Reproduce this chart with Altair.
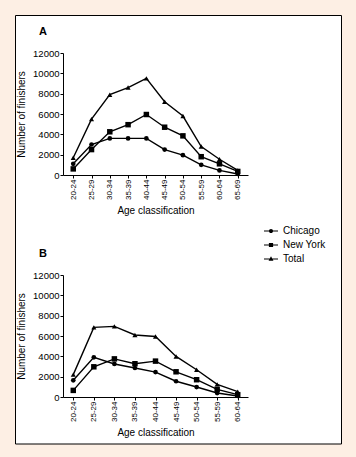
import altair as alt
import pandas as pd

ages_a = ["20-24", "25-29", "30-34", "35-39", "40-44", "45-49", "50-54", "55-59", "60-64", "65-69"]
chicago_a = [1100, 3000, 3600, 3600, 3600, 2500, 1950, 1000, 450, 100]
newyork_a = [600, 2500, 4250, 4950, 5950, 4700, 3850, 1800, 1100, 350]
total_a = [1700, 5500, 7900, 8600, 9500, 7200, 5800, 2800, 1550, 450]

ages_b = ["20-24", "25-29", "30-34", "35-39", "40-44", "45-49", "50-54", "55-59", "60-64"]
chicago_b = [1640, 3900, 3250, 2850, 2450, 1550, 980, 390, 100]
newyork_b = [650, 2970, 3750, 3270, 3530, 2480, 1700, 750, 230]
total_b = [2200, 6850, 6950, 6100, 5950, 3990, 2680, 1240, 520]

series = ["Chicago", "New York", "Total"]
shapes = ["circle", "square", "triangle-up"]
legend_paths = [
    "M-1,-0.075H1V0.075H-1Z M0.3,0A0.3,0.3,0,1,1,-0.3,0A0.3,0.3,0,1,1,0.3,0Z",
    "M-1,-0.075H1V0.075H-1Z M-0.3,-0.3H0.3V0.3H-0.3Z",
    "M-1,-0.075H1V0.075H-1Z M0,-0.38L0.35,0.25L-0.35,0.25Z",
]
y_ticks = [0, 2000, 4000, 6000, 8000, 10000, 12000]

FONT = "Liberation Sans"
BG = "#FDEFE4"


def make_df(ages, ch, ny, tot):
    rows = []
    for name, vals in zip(series, [ch, ny, tot]):
        for a, v in zip(ages, vals):
            rows.append({"age": a, "series": name, "value": v})
    return pd.DataFrame(rows)


def panel(ages, ch, ny, tot, title, xpad, height, with_frame=False, with_legend=False):
    df = make_df(ages, ch, ny, tot)
    x = alt.X("age:N", sort=ages, scale=alt.Scale(type="point", padding=xpad),
              axis=alt.Axis(title="Age classification", labelAngle=270, labelFontSize=8,
                            labelPadding=1, tickSize=3, titleFontSize=10, titleFontWeight="normal",
                            titlePadding=6, domainColor="black", tickColor="black",
                            labelColor="black", titleColor="black", zindex=1, labelFont=FONT,
                            titleFont=FONT, labelOverlap=False))
    y = alt.Y("value:Q", scale=alt.Scale(domain=[0, 12000], nice=False),
              axis=alt.Axis(title="Number of finishers", values=y_ticks, grid=False, format="d",
                            labelFontSize=9.5, labelPadding=1, tickSize=3, titleFontSize=10,
                            titleFontWeight="normal", titlePadding=6, domainColor="black",
                            tickColor="black", labelColor="black", titleColor="black",
                            zindex=1, labelFont=FONT, titleFont=FONT, labelOverlap=False))
    base = alt.Chart(df)
    line = base.mark_line(color="black", strokeWidth=1.4).encode(x=x, y=y, detail="series:N")
    layers = []
    if with_frame:
        frame = alt.Chart(pd.DataFrame({"f": [0]})).mark_rect(
            fill="white", stroke="black", strokeWidth=1
        ).encode(x=alt.value(-47.5), x2=alt.value(278.5), y=alt.value(-37.5), y2=alt.value(391))
        layers.append(frame)
    label = alt.Chart(pd.DataFrame({"t": [title]})).mark_text(
        align="left", baseline="alphabetic", fontSize=11, fontWeight="bold", font=FONT, color="black"
    ).encode(text="t:N", x=alt.value(-24), y=alt.value(-18.5))
    layers.append(label)
    layers.append(line)
    for name, shp, sz in zip(series, shapes, [22, 30, 26]):
        pts = base.transform_filter(alt.datum.series == name).mark_point(
            shape=shp, filled=True, color="black", opacity=1, size=sz
        ).encode(x=x, y=y)
        layers.append(pts)
    if with_legend:
        leg_df = pd.DataFrame({"age": [ages[0]] * 3, "series": series, "value": [-5000] * 3})
        leg = alt.Chart(leg_df).mark_point(filled=True, color="black", clip=True).encode(
            x=x,
            y=y,
            shape=alt.Shape("series:N", sort=series,
                            scale=alt.Scale(domain=series, range=legend_paths),
                            legend=alt.Legend(title=None, orient="none", legendX=200, legendY=170,
                                              symbolSize=196, symbolFillColor="black",
                                              symbolOpacity=1, labelFontSize=10, labelFont=FONT,
                                              labelColor="black", labelOffset=4, rowPadding=0)),
        )
        layers.append(leg)
    return alt.layer(*layers).properties(width=185, height=height)


chart_a = panel(ages_a, chicago_a, newyork_a, total_a, "A", 0.56, 122, with_frame=True, with_legend=True)
chart_b = panel(ages_b, chicago_b, newyork_b, total_b, "B", 0.5, 122)

chart = alt.vconcat(chart_a, chart_b, spacing=100, bounds="flush").properties(
    padding={"left": 15, "top": 15, "right": 14, "bottom": 13},
    background=BG,
).configure_view(stroke=None)

chart.save("out.html", embed_options={"renderer": "svg", "actions": False})
